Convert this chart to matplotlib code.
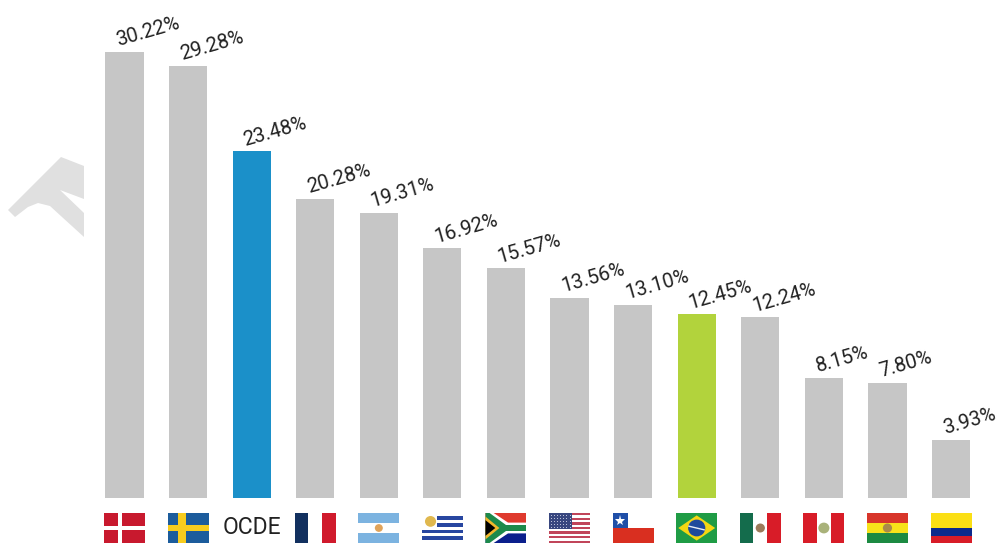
"""
Bar chart of percentages by country, with small flags under the bars.
"""

import matplotlib
matplotlib.use("Agg")
import matplotlib.pyplot as plt
from matplotlib.patches import Ellipse, Polygon, Rectangle

countries = ["DK", "SE", "OCDE", "FR", "AR", "UY", "ZA", "US", "CL", "BR", "MX", "PE", "BO", "CO"]
values = [30.22, 29.28, 23.48, 20.28, 19.31, 16.92, 15.57, 13.56, 13.10, 12.45, 12.24, 8.15, 7.80, 3.93]
labels = ["30.22%", "29.28%", "23.48%", "20.28%", "19.31%", "16.92%", "15.57%",
          "13.56%", "13.10%", "12.45%", "12.24%", "8.15%", "7.80%", "3.93%"]

GREY = "#c6c6c6"
HIGHLIGHT = {"OCDE": "#1b90c9", "BR": "#b2d33c"}
TEXT = "#222222"

W, H = 1001, 551
BASE_Y = 498        # pixel row of the bar baseline
X0, STEP = 124.5, 63.58
PX_PER_UNIT = 14.76

plt.rcParams["font.family"] = ["Roboto", "DejaVu Sans"]


def rect(ax, x, y, w, h, color):
    ax.add_patch(Rectangle((x, y), w, h, facecolor=color, edgecolor="none"))


def stripes_h(ax, colors, sizes=None):
    sizes = sizes or [1 / len(colors)] * len(colors)
    top = 1.0
    for c, s in zip(colors, sizes):
        rect(ax, 0, top - s, 1, s, c)
        top -= s


def stripes_v(ax, colors):
    s = 1 / len(colors)
    for i, c in enumerate(colors):
        rect(ax, i * s, 0, s, 1, c)


def emblem(ax, color, r=0.12):
    # small coat of arms, squashed to stay round on a 4:3 flag
    ax.add_patch(Ellipse((0.5, 0.5), r * 2 * 0.75, r * 2, color=color, lw=0))


def flag_dk(ax):
    rect(ax, 0, 0, 1, 1, "#c8192e")
    rect(ax, 0.33, 0, 0.11, 1, "white")
    rect(ax, 0, 0.42, 1, 0.15, "white")


def flag_se(ax):
    rect(ax, 0, 0, 1, 1, "#1c5c9c")
    rect(ax, 0.26, 0, 0.18, 1, "#f7cc1e")
    rect(ax, 0, 0.39, 1, 0.22, "#f7cc1e")


def flag_fr(ax):
    stripes_v(ax, ["#12305f", "white", "#d01a2c"])


def flag_ar(ax):
    stripes_h(ax, ["#7cb3e0", "white", "#7cb3e0"])
    emblem(ax, "#e0a35a", 0.13)


def flag_uy(ax):
    rect(ax, 0, 0, 1, 1, "white")
    for y, x in [(0.11, 0.0), (0.33, 0.0), (0.55, 0.36), (0.78, 0.36)]:
        rect(ax, x, y, 1 - x, 0.11, "#2846a0")
    ax.add_patch(Ellipse((0.21, 0.72), 0.27, 0.36, color="#e0b84e", lw=0))


def flag_za(ax):
    rect(ax, 0, 0.5, 1, 0.5, "#df3a2e")
    rect(ax, 0, 0, 1, 0.5, "#0b1f8c")
    ax.add_patch(Polygon([(0, 1), (0.2, 1), (0.55, 0.68), (1, 0.68), (1, 0.32), (0.55, 0.32),
                          (0.2, 0), (0, 0)], facecolor="white", edgecolor="none"))
    ax.add_patch(Polygon([(0, 1), (0.1, 1), (0.5, 0.6), (1, 0.6), (1, 0.4), (0.5, 0.4),
                          (0.1, 0), (0, 0)], facecolor="#1d8a4b", edgecolor="none"))
    ax.add_patch(Polygon([(0, 0.88), (0.34, 0.5), (0, 0.12)], facecolor="#f2b72c", edgecolor="none"))
    ax.add_patch(Polygon([(0, 0.76), (0.24, 0.5), (0, 0.24)], facecolor="black", edgecolor="none"))


def flag_us(ax):
    for i in range(13):
        rect(ax, 0, 1 - (i + 1) / 13, 1, 1 / 13, "#c1455a" if i % 2 == 0 else "white")
    rect(ax, 0, 6 / 13, 0.55, 7 / 13, "#39477f")
    for r in range(5):
        for c in range(7):
            ax.plot(0.05 + c * 0.075, 0.52 + r * 0.1, marker="o", ms=0.7, color="#c6cbe0", mew=0)


def flag_cl(ax):
    rect(ax, 0, 0, 1, 0.5, "#d92f20")
    rect(ax, 0, 0.5, 1, 0.5, "white")
    rect(ax, 0, 0.5, 0.37, 0.5, "#1f4fa8")
    ax.plot(0.185, 0.75, marker="*", ms=8, color="white", mew=0)


def flag_br(ax):
    rect(ax, 0, 0, 1, 1, "#1f9c45")
    ax.add_patch(Polygon([(0.05, 0.5), (0.5, 0.92), (0.95, 0.5), (0.5, 0.08)],
                         facecolor="#f5d712", edgecolor="none"))
    ax.add_patch(Ellipse((0.5, 0.5), 0.42, 0.56, color="#1f4a9c", lw=0))
    ax.plot([0.31, 0.68], [0.56, 0.44], color="#e9eef5", lw=1)


def flag_mx(ax):
    stripes_v(ax, ["#146c4c", "white", "#d81c28"])
    emblem(ax, "#9c7a5a", 0.15)


def flag_pe(ax):
    stripes_v(ax, ["#d81c28", "white", "#d81c28"])
    emblem(ax, "#a9b27a", 0.18)


def flag_bo(ax):
    stripes_h(ax, ["#d8352a", "#f7e21a", "#1c8a42"])
    emblem(ax, "#a98a4a", 0.15)


def flag_co(ax):
    stripes_h(ax, ["#fbdf14", "#0c2a8c", "#d81c28"], [0.5, 0.25, 0.25])


FLAGS = {"DK": flag_dk, "SE": flag_se, "FR": flag_fr, "AR": flag_ar, "UY": flag_uy, "ZA": flag_za,
         "US": flag_us, "CL": flag_cl, "BR": flag_br, "MX": flag_mx, "PE": flag_pe, "BO": flag_bo,
         "CO": flag_co}

fig = plt.figure(figsize=(W / 100, H / 100), dpi=100, facecolor="white")

# background logo shape, cut off on its right side, in pixel coordinates
bg = fig.add_axes([0, 0, 1, 1])
bg.set_xlim(0, W)
bg.set_ylim(H, 0)
bg.axis("off")
bg.add_patch(Polygon([(8, 210), (61, 157), (84, 166), (84, 199), (60, 190), (84, 213), (84, 237),
                      (62, 217), (50, 206), (38, 203), (28, 207), (15, 217)],
                     facecolor="#e0e0e0", edgecolor="none"))

ax = fig.add_axes([0, 0, 1, 1])
ax.patch.set_alpha(0)
ax.set_xlim(-X0 / STEP, (W - X0) / STEP)
ax.set_ylim(-(H - BASE_Y) / PX_PER_UNIT, BASE_Y / PX_PER_UNIT)
ax.axis("off")

positions = range(len(values))
colors = [HIGHLIGHT.get(c, GREY) for c in countries]
ax.bar(positions, values, width=0.6, color=colors)

for i, (v, lab) in enumerate(zip(values, labels)):
    ax.annotate(lab, (i, v), xytext=(-4.5, 4), textcoords="offset points", fontsize=14.5,
                color=TEXT, rotation=16, rotation_mode="anchor", ha="left", va="baseline")

# flags hang below the baseline, one per bar
flag_w = 41 / STEP
flag_h = 30 / PX_PER_UNIT
flag_y = -45 / PX_PER_UNIT
for i, c in enumerate(countries):
    if c == "OCDE":
        ax.text(i, flag_y + flag_h / 2, c, ha="center", va="center", fontsize=16.5, color=TEXT)
        continue
    inset = ax.inset_axes([i - flag_w / 2, flag_y, flag_w, flag_h], transform=ax.transData)
    inset.set_xlim(0, 1)
    inset.set_ylim(0, 1)
    inset.axis("off")
    FLAGS[c](inset)

fig.savefig("out.png", dpi=100)
plt.close(fig)
